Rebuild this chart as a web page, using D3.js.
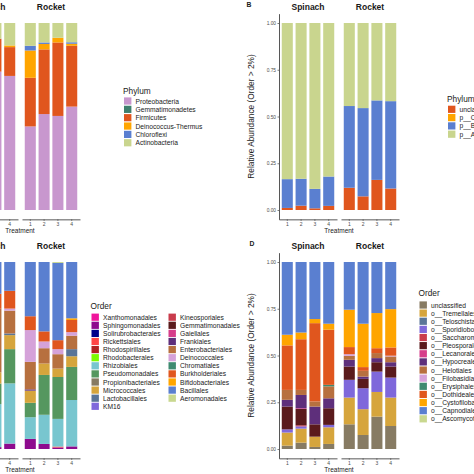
<!DOCTYPE html>
<html>
<head>
<meta charset="utf-8">
<script src="https://cdn.jsdelivr.net/npm/d3@7"></script>
<style>
  html, body { margin: 0; padding: 0; background: #fff; }
  svg { display: block; font-family: "Liberation Sans", Arial, sans-serif; }
</style>
</head>
<body>
<svg id="chart" width="474" height="474"></svg>
<script>
// ---------------- DATA ----------------
const treatments = ["1", "2", "3", "4"];
const facets = ["Spinach", "Rocket"];
const yTicks = [0, 0.25, 0.5, 0.75, 1];

// Panel A : bacterial phyla (Spinach treatments 1-2 lie outside the cropped picture)
const phylaA = ["Proteobacteria", "Gemmatimonadetes", "Firmicutes", "Deinococcus-Thermus", "Chloroflexi", "Actinobacteria"];
const colorsA = ["#c897ce", "#3f7f6e", "#e0561e", "#ffa500", "#5a7fd0", "#c9d58e"];
const barsA = [
  ["Spinach", "3", [0.740, 0, 0.176, 0.000, 0.000, 0.084]],
  ["Spinach", "4", [0.717, 0, 0.154, 0.009, 0.000, 0.120]],
  ["Rocket",  "1", [0.447, 0, 0.260, 0.146, 0.025, 0.122]],
  ["Rocket",  "2", [0.513, 0, 0.346, 0.029, 0.008, 0.104]],
  ["Rocket",  "3", [0.503, 0, 0.393, 0.025, 0.000, 0.079]],
  ["Rocket",  "4", [0.553, 0, 0.325, 0.011, 0.008, 0.103]]
];

// Panel B : fungal phyla
const phylaB = ["unclassified", "p__Chytridiomycota", "p__Basidiomycota", "p__Ascomycota"];
const colorsB = ["#e0561e", "#ffa500", "#5a7fd0", "#c9d58e"];
const barsB = [
  ["Spinach", "1", [0.011, 0, 0.154, 0.835]],
  ["Spinach", "2", [0.023, 0, 0.144, 0.833]],
  ["Spinach", "3", [0.009, 0, 0.104, 0.887]],
  ["Spinach", "4", [0.022, 0, 0.157, 0.821]],
  ["Rocket",  "1", [0.119, 0, 0.437, 0.444]],
  ["Rocket",  "2", [0.073, 0, 0.472, 0.455]],
  ["Rocket",  "3", [0.161, 0, 0.425, 0.414]],
  ["Rocket",  "4", [0.115, 0, 0.467, 0.418]]
];

// Panel C : bacterial orders (Spinach treatments 1-2 lie outside the cropped picture)
const ordersC = ["Xanthomonadales", "Sphingomonadales", "Solirubrobacterales", "Rickettsiales", "Rhodospirillales",
  "Rhodobacterales", "Rhizobiales", "Pseudomonadales", "Propionibacteriales", "Micrococcales", "Lactobacillales", "KM16",
  "Kineosporiales", "Gemmatimonadales", "Gaiellales", "Frankiales", "Enterobacteriales", "Deinococcales", "Chromatiales",
  "Burkholderiales", "Bifidobacteriales", "Bacillales", "Aeromonadales"];
const colorsC = ["#f0169c", "#8e0b8e", "#00008b", "#ff4545", "#b22222", "#7cfc00", "#78c6cf", "#55975f", "#877b63",
  "#d6a53c", "#5a7598", "#7f68db", "#c93c4c", "#5a1a1c", "#d63d8a", "#5e2f7b", "#b7703f", "#d5a2d9", "#3e8a70",
  "#e0561e", "#ffa500", "#5a7fd0", "#c9d88f"];
const barsC = [
  ["Spinach", "3", {Sphingomonadales: 0.010, Rhizobiales: 0.230, Pseudomonadales: 0.110, Micrococcales: 0.060,
    Enterobacteriales: 0.340, Burkholderiales: 0.080, Bacillales: 0.170}],
  ["Spinach", "4", {Sphingomonadales: 0.029, Rhizobiales: 0.322, Pseudomonadales: 0.183, Micrococcales: 0.075,
    Lactobacillales: 0.009, Enterobacteriales: 0.122, Deinococcales: 0.011, Burkholderiales: 0.095, Bacillales: 0.154}],
  ["Rocket", "1", {Sphingomonadales: 0.054, Rhizobiales: 0.116, Pseudomonadales: 0.077, Micrococcales: 0.065,
    Frankiales: 0.007, Enterobacteriales: 0.147, Deinococcales: 0.170, Burkholderiales: 0.074, Bacillales: 0.290}],
  ["Rocket", "2", {Sphingomonadales: 0.027, Rhizobiales: 0.156, Pseudomonadales: 0.213, Micrococcales: 0.061,
    Enterobacteriales: 0.082, Deinococcales: 0.036, Burkholderiales: 0.054, Bacillales: 0.371}],
  ["Rocket", "3", {Sphingomonadales: 0.008, Rickettsiales: 0.005, Rhizobiales: 0.148, Pseudomonadales: 0.224,
    Micrococcales: 0.045, Enterobacteriales: 0.077, Deinococcales: 0.027, Burkholderiales: 0.048, Bacillales: 0.413,
    Aeromonadales: 0.005}],
  ["Rocket", "4", {Sphingomonadales: 0.014, Rhizobiales: 0.248, Pseudomonadales: 0.177, Micrococcales: 0.057,
    Lactobacillales: 0.038, Enterobacteriales: 0.072, Deinococcales: 0.019, Burkholderiales: 0.065,
    Bifidobacteriales: 0.009, Bacillales: 0.301}]
];

// Panel D : fungal orders
const ordersD = ["unclassified", "o__Tremellales", "o__Teloschistales", "o__Sporidiobolales", "o__Saccharomycetales",
  "o__Pleosporales", "o__Lecanorales", "o__Hypocreales", "o__Helotiales", "o__Filobasidiales", "o__Erysiphales",
  "o__Dothideales", "o__Cystofilobasidiales", "o__Capnodiales", "o__Ascomycota_unclassified"];
const colorsD = ["#877b63", "#d6a53c", "#5a7598", "#7f68db", "#c93c4c", "#5a1a1c", "#d63d8a", "#5e2f7b", "#b7703f",
  "#d5a2d9", "#3e8a70", "#e0561e", "#ffa500", "#5a7fd0", "#c9d88f"];
const barsD = [
  ["Spinach", "1", {"unclassified": 0.018, "o__Tremellales": 0.070, "o__Sporidiobolales": 0.017, "o__Pleosporales": 0.122,
    "o__Hypocreales": 0.036, "o__Helotiales": 0.053, "o__Dothideales": 0.238, "o__Cystofilobasidiales": 0.057, "o__Capnodiales": 0.389}],
  ["Spinach", "2", {"unclassified": 0.034, "o__Tremellales": 0.075, "o__Sporidiobolales": 0.012, "o__Saccharomycetales": 0.006,
    "o__Pleosporales": 0.087, "o__Lecanorales": 0.004, "o__Hypocreales": 0.071, "o__Helotiales": 0.027, "o__Dothideales": 0.271,
    "o__Cystofilobasidiales": 0.036, "o__Capnodiales": 0.377}],
  ["Spinach", "3", {"unclassified": 0.011, "o__Tremellales": 0.055, "o__Pleosporales": 0.066, "o__Hypocreales": 0.095,
    "o__Helotiales": 0.027, "o__Dothideales": 0.419, "o__Cystofilobasidiales": 0.022, "o__Capnodiales": 0.305}],
  ["Spinach", "4", {"unclassified": 0.027, "o__Tremellales": 0.089, "o__Sporidiobolales": 0.013, "o__Pleosporales": 0.089,
    "o__Hypocreales": 0.053, "o__Helotiales": 0.064, "o__Erysiphales": 0.008, "o__Dothideales": 0.295,
    "o__Cystofilobasidiales": 0.032, "o__Capnodiales": 0.330}],
  ["Rocket", "1", {"unclassified": 0.132, "o__Tremellales": 0.143, "o__Sporidiobolales": 0.095, "o__Pleosporales": 0.071,
    "o__Hypocreales": 0.036, "o__Helotiales": 0.021, "o__Filobasidiales": 0.009, "o__Dothideales": 0.038,
    "o__Cystofilobasidiales": 0.200, "o__Capnodiales": 0.255}],
  ["Rocket", "2", {"unclassified": 0.075, "o__Tremellales": 0.138, "o__Sporidiobolales": 0.112, "o__Pleosporales": 0.050,
    "o__Hypocreales": 0.012, "o__Helotiales": 0.031, "o__Dothideales": 0.020, "o__Cystofilobasidiales": 0.232, "o__Capnodiales": 0.330}],
  ["Rocket", "3", {"unclassified": 0.173, "o__Tremellales": 0.132, "o__Sporidiobolales": 0.109, "o__Pleosporales": 0.050,
    "o__Hypocreales": 0.022, "o__Helotiales": 0.027, "o__Dothideales": 0.026, "o__Cystofilobasidiales": 0.188, "o__Capnodiales": 0.273}],
  ["Rocket", "4", {"unclassified": 0.123, "o__Tremellales": 0.152, "o__Sporidiobolales": 0.107, "o__Pleosporales": 0.059,
    "o__Hypocreales": 0.023, "o__Helotiales": 0.031, "o__Filobasidiales": 0.004, "o__Dothideales": 0.044,
    "o__Cystofilobasidiales": 0.205, "o__Capnodiales": 0.252}]
];

// ---------------- DRAWING ----------------
const svg = d3.select("#chart");
svg.append("rect").attr("width", 474).attr("height", 474).attr("fill", "#fff");

function drawPanel(o) {
  const g = svg.append("g");
  const unit = o.y0 - o.y1;
  const y = d3.scaleLinear().domain([-0.05, 1.05]).range([o.y0 + 0.05 * unit, o.y1 - 0.05 * unit]);
  const color = d3.scaleOrdinal(o.keys, o.colors);
  const panelW = 58, gap = 4;

  facets.forEach((f, i) => {
    const fx0 = o.axisX + i * (panelW + gap);
    const x = d3.scaleBand().domain(treatments).range([fx0, fx0 + panelW]).paddingInner(0.2).paddingOuter(0.2);
    const rows = o.bars.filter(b => b[0] === f).map(b => {
      const r = {treatment: b[1]};
      o.keys.forEach((k, j) => { r[k] = Array.isArray(b[2]) ? b[2][j] : (b[2][k] || 0); });
      return r;
    });
    const series = d3.stack().keys(o.keys)(rows);
    g.append("g").selectAll("g").data(series).join("g")
      .attr("fill", s => color(s.key))
      .selectAll("rect").data(s => s).join("rect")
      .attr("x", d => x(d.data.treatment))
      .attr("width", x.bandwidth())
      .attr("y", d => y(d[1]))
      .attr("height", d => Math.max(0, y(d[0]) - y(d[1])));

    // x axis
    const xa = g.append("g").attr("transform", `translate(0,${y(-0.05)})`)
      .call(d3.axisBottom(x).tickSize(1.5).tickSizeOuter(0).tickPadding(1.5));
    xa.select(".domain").attr("stroke", "#444").attr("stroke-width", 0.9);
    xa.selectAll(".tick line").attr("stroke", "#444").attr("stroke-width", 0.7);
    xa.selectAll(".tick text").attr("font-size", 5).attr("fill", "#4d4d4d").attr("font-family", "Liberation Sans, Arial, sans-serif");

    // strip label
    g.append("text").attr("x", fx0 + panelW / 2).attr("y", o.y1 - 0.05 * unit - 3.5)
      .attr("text-anchor", "middle").attr("font-size", 8.5).attr("font-weight", "bold").attr("fill", "#1a1a1a")
      .text(f);

    if (i === 0) {
      const ya = g.append("g").attr("transform", `translate(${fx0},0)`)
        .call(d3.axisLeft(y).tickValues(yTicks).tickFormat(d3.format(".2f")).tickSize(1.5).tickSizeOuter(0).tickPadding(1.5));
      ya.select(".domain").attr("stroke", "#444").attr("stroke-width", 0.9);
      ya.selectAll(".tick line").attr("stroke", "#444").attr("stroke-width", 0.7);
      ya.selectAll(".tick text").attr("font-size", 4.8).attr("fill", "#4d4d4d").attr("font-family", "Liberation Sans, Arial, sans-serif");
    }
  });

  // axis titles
  g.append("text").attr("x", o.axisX + panelW + gap / 2).attr("y", y(-0.05) + 13.5)
    .attr("text-anchor", "middle").attr("font-size", 6.5).attr("fill", "#1a1a1a").text("Treatment");
  const cy = (y(-0.05) + y(1.05)) / 2;
  g.append("text").attr("transform", `translate(${o.axisX - 28.5},${cy}) rotate(-90)`)
    .attr("text-anchor", "middle").attr("dominant-baseline", "central")
    .attr("font-size", 8.3).attr("fill", "#1a1a1a").text("Relative Abundance (Order > 2%)");

  if (o.tag) {
    g.append("text").attr("x", o.tag[0]).attr("y", o.tag[1]).attr("font-size", 6.8).attr("font-weight", "bold")
      .attr("fill", "#1a1a1a").text(o.tag[2]);
  }

  // legend
  const L = o.legend;
  const lg = svg.append("g");
  lg.append("text").attr("x", L.x).attr("y", L.titleY).attr("font-size", 8.3).attr("fill", "#1a1a1a").text(L.title);
  o.keys.forEach((k, j) => {
    const col = Math.floor(j / L.perCol);
    const row = j % L.perCol;
    const kx = L.x + 1 + col * L.colStep;
    const ky = L.rowY + row * L.step;
    lg.append("rect").attr("x", kx).attr("y", ky - 3.6).attr("width", 7.4).attr("height", 7.2).attr("fill", color(k));
    lg.append("text").attr("x", kx + 11.5).attr("y", ky).attr("dominant-baseline", "central")
      .attr("font-size", 6.7).attr("fill", "#1a1a1a").text(k);
  });
}

drawPanel({axisX: -40, y0: 210, y1: 23, keys: phylaA, colors: colorsA, bars: barsA,
  legend: {title: "Phylum", x: 123, titleY: 93.8, rowY: 101, step: 8.35, perCol: 99, colStep: 0}});
drawPanel({axisX: 279, y0: 210, y1: 23, keys: phylaB, colors: colorsB, bars: barsB, tag: [246.5, 6.8, "B"],
  legend: {title: "Phylum", x: 447, titleY: 101.5, rowY: 109.3, step: 8.3, perCol: 99, colStep: 0}});
drawPanel({axisX: -40, y0: 449, y1: 262, keys: ordersC, colors: colorsC, bars: barsC,
  legend: {title: "Order", x: 90.5, titleY: 309, rowY: 317.2, step: 8.1, perCol: 12, colStep: 77}});
drawPanel({axisX: 279, y0: 449, y1: 262, keys: ordersD, colors: colorsD, bars: barsD, tag: [249.5, 245.5, "D"],
  legend: {title: "Order", x: 418.5, titleY: 296.2, rowY: 305, step: 8.13, perCol: 99, colStep: 0}});

// texts lying wholly outside the cropped view are not part of the picture
svg.selectAll("text").each(function () {
  const r = this.getBoundingClientRect();
  if (r.right <= 0 || r.left >= 474) d3.select(this).remove();
});
</script>
</body>
</html>
